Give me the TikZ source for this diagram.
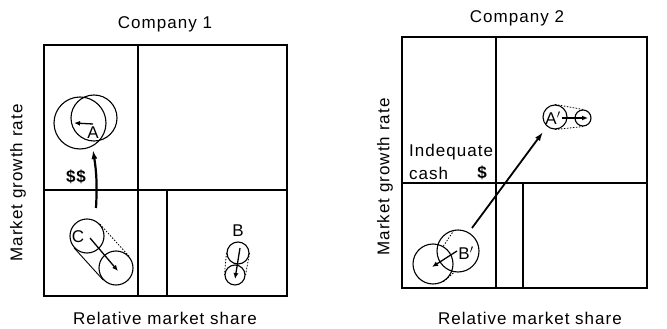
\documentclass[tikz,border=0pt]{standalone}
\usepackage{fontspec}
\setmainfont{Liberation Sans}[LetterSpace=6]
\usetikzlibrary{arrows.meta}
\begin{document}
\begin{tikzpicture}[x=1pt,y=-1pt,
  frame/.style={line width=1.5pt},
  thickdiv/.style={line width=2.2pt},
  bub/.style={circle,draw,line width=1.1pt,inner sep=0pt},
  lbl/.style={font=\fontsize{17}{20}\selectfont,inner sep=0pt},
  mv/.style={-{Latex[length=9pt,width=6pt]},line width=2.2pt},
  mvs/.style={-{Latex[length=6pt,width=5pt]},line width=1.3pt},
  tan/.style={line width=0.8pt,dash pattern=on 1.5pt off 1.5pt}]
\useasboundingbox (0,0) rectangle (667,329);
% ---------- Company 1 ----------
\node[lbl] (t1) at (165,24) {Company 1};
\node[lbl,rotate=90] (y1) at (18,183) {Market growth rate};
\node[lbl] (x1) at (165,318) {Relative market share};
\draw[frame] (44,45) rectangle (287,296);
\draw[frame] (138,45) -- (138,296);
\draw[frame] (44,190) -- (287,190);
\draw[thickdiv] (167,190) -- (167,296);
% A
\node[bub,minimum size=52pt] (A1) at (80,123) {};
\node[bub,minimum size=46pt] (A2) at (94,118) {};
\node[lbl] (Al) at (93,133) {A};
\coordinate (as) at (93,124);
\coordinate (ae) at (74,123);
\draw[mvs] (as) -- (ae);
% $$
\node[lbl,font=\fontsize{17}{20}\selectfont\bfseries] (dd) at (76,177) {\$\$};
\coordinate (cs) at (96,208);
\coordinate (ce) at (93,150);
\draw[mv] (cs) to[bend right=6] (ce);
% C
\node[bub,minimum size=34pt] (C1) at (87,236) {};
\node[bub,minimum size=34pt] (C2) at (116,268) {};
\draw[tan] (C1.42) -- (C2.42);
\draw[line width=0.9pt] (C1.222) -- (C2.222);
\node[lbl] (Cl) at (78,237) {C};
\coordinate (c1s) at (90,238);
\coordinate (c1e) at (118,271);
\draw[mvs] (c1s) -- (c1e);
% B
\node[lbl] (Bl) at (238,231) {B};
\node[bub,minimum size=22pt] (B1) at (238,253) {};
\node[bub,minimum size=20pt] (B2) at (235,275) {};
\draw[tan] (B1.east) -- (B2.east);
\draw[tan] (B1.west) -- (B2.west);
\coordinate (bs) at (240,248);
\coordinate (be) at (235,279);
\draw[mvs] (bs) -- (be);
% ---------- Company 2 ----------
\node[lbl] (t2) at (517,18) {Company 2};
\node[lbl,rotate=90] (y2) at (385,177) {Market growth rate};
\node[lbl] (x2) at (530,318) {Relative market share};
\draw[frame] (402,37) rectangle (647,288);
\draw[frame] (496,37) -- (496,288);
\draw[frame] (402,183) -- (647,183);
\draw[frame] (523,183) -- (523,288);
\node[lbl,anchor=west] (ind) at (409,152) {Indequate};
\node[lbl,anchor=west] (cash) at (409,173) {cash};
\node[lbl,font=\fontsize{17}{20}\selectfont\bfseries] (dl) at (482,173) {\$};
% A'
\node[bub,minimum size=24pt] (P1) at (555,117) {};
\node[bub,minimum size=16pt] (P2) at (583,118) {};
\draw[tan] (P1.north) -- (P2.north);
\draw[tan] (P1.south) -- (P2.south);
\node[lbl] (Pl) at (553,118) {A$'$};
\coordinate (ps) at (562,118);
\coordinate (pe) at (588,118);
\draw[mvs] (ps) -- (pe);
% B'
\node[bub,minimum size=40pt] (Q1) at (433,264) {};
\node[bub,minimum size=42pt] (Q2) at (458,251) {};
\draw[tan] (Q1.60) -- (Q2.100);
\draw[tan] (Q1.-60) -- (Q2.-100);
\node[lbl] (Ql) at (466,253) {B$'$};
\coordinate (qs) at (457,251);
\coordinate (qe) at (432,267);
\draw[mvs] (qs) -- (qe);
\coordinate (ms) at (472,228);
\coordinate (me) at (543,132);
\draw[mv,line width=1.8pt] (ms) -- (me);
\end{tikzpicture}
\end{document}
